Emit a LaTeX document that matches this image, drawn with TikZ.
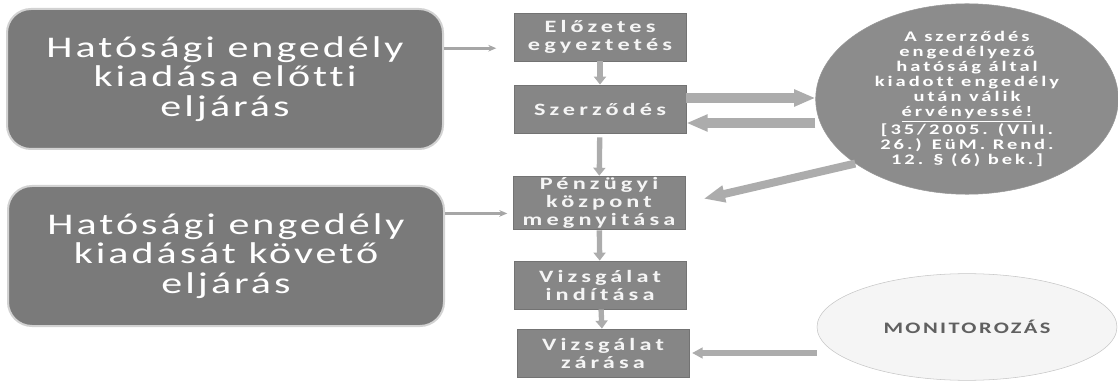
\documentclass[tikz,border=0pt]{standalone}
\usepackage{fontspec}
\setmainfont{Carlito}
\newfontfamily\bigfont[FakeStretch=1.4, LetterSpace=10, Ligatures=NoCommon]{Carlito}
\newfontfamily\smallfont[FakeStretch=1.4, LetterSpace=24, Ligatures=NoCommon]{Carlito}
\newfontfamily\ovalfont[FakeStretch=1.4, LetterSpace=20, Ligatures=NoCommon]{Carlito}
\newfontfamily\monfont[FakeStretch=1.4, LetterSpace=15, Ligatures=NoCommon]{Carlito}
\usetikzlibrary{arrows.meta, calc, shapes.geometric}

\definecolor{biggray}{RGB}{122,122,122}
\definecolor{boxgray}{RGB}{134,134,134}
\definecolor{ovalgray}{RGB}{140,140,140}
\definecolor{arrowgray}{RGB}{172,172,172}

\begin{document}
\begin{tikzpicture}[x=0.75pt, y=-0.75pt,
    bigbox/.style={rectangle, rounded corners=18pt, fill=biggray, draw=gray!35, line width=1.5pt,
        minimum width=327pt, minimum height=105pt, text=white, align=center,
        font=\bigfont\fontsize{22.5}{22}\selectfont},
    stepbox/.style={rectangle, fill=boxgray, draw=gray!90!black, line width=0.6pt,
        minimum width=129pt, minimum height=36pt, inner sep=1pt, text=gray!8, align=center,
        font=\smallfont\bfseries\fontsize{13}{13.5}\selectfont},
    thinarrow/.style={draw=gray!70, line width=2pt, -{Stealth[length=6pt,width=5pt]}},
    downarrow/.style={draw=arrowgray, line width=4pt, -{Triangle[length=6pt,width=9pt]}},
    fatarrow/.style={draw=arrowgray, line width=7pt, -{Triangle[length=16pt,width=12pt]}},
    smallarrow/.style={draw=arrowgray, line width=4pt, -{Triangle[length=8pt,width=8pt]}}]
    \useasboundingbox (0,0) rectangle (1118,381);

    % two phases on the left
    \node[bigbox] (pre) at (225,79) {Hatósági engedély\\kiadása előtti\\eljárás};
    \node[bigbox] (post) at (226,256) {Hatósági engedély\\kiadását követő\\eljárás};

    % the steps
    \node[stepbox] (elozetes) at (600,37) {Előzetes\\egyeztetés};
    \node[stepbox] (szerzodes) at (600,109) {Szerződés};
    \node[stepbox] (penzugyi) at (599,203) {Pénzügyi\\központ\\megnyitása};
    \node[stepbox] (inditas) at (600,285) {Vizsgálat\\indítása};
    \node[stepbox] (zaras) at (603,353) {Vizsgálat\\zárása};

    % ovals on the right
    \node[ellipse, fill=ovalgray, draw=gray!80, minimum width=227pt, minimum height=137pt,
        inner sep=0pt, text=white, align=center,
        font=\ovalfont\bfseries\fontsize{11}{11.25}\selectfont] (engedely) at (967,99)
        {A szerződés\\engedélyező\\hatóság által\\kiadott engedély\\után válik\\\underline{érvényessé!}\\
         {[}35/2005. (VIII.\\26.) EüM. Rend.\\12. § (6) bek.{]}};
    \node[ellipse, fill=gray!8, draw=gray!45, minimum width=225pt, minimum height=80pt,
        inner sep=0pt, text=gray!75!black, font=\monfont\bfseries\fontsize{12}{14}\selectfont]
        (monitor) at (967,327) {MONITOROZÁS};

    % phase arrows
    \draw[thinarrow, shorten >=13pt] (pre.8) -- (pre.8 -| elozetes.west);
    \draw[thinarrow, shorten >=4pt] (post.11) -- (post.11 -| penzugyi.west);

    % down the column
    \draw[downarrow] (elozetes) -- (szerzodes);
    \draw[downarrow, shorten <=3pt] (szerzodes) -- (penzugyi);
    \draw[downarrow] (penzugyi) -- (inditas);
    \draw[downarrow] (inditas) -- (zaras);

    % contract and permit
    \draw[fatarrow] ($(szerzodes.east)+(0,-11)$) -- ($(szerzodes.east -| engedely.west)+(0,-11)$);
    \draw[fatarrow] ($(szerzodes.east -| engedely.west)+(0,14)$) -- ($(szerzodes.east)+(0,14)$);
    \draw[fatarrow, line width=6pt, shorten >=14pt] (engedely.210) -- (penzugyi.east);

    % monitoring
    \draw[smallarrow, shorten >=2pt] (monitor.west |- zaras.east) -- (zaras.east);
\end{tikzpicture}
\end{document}
